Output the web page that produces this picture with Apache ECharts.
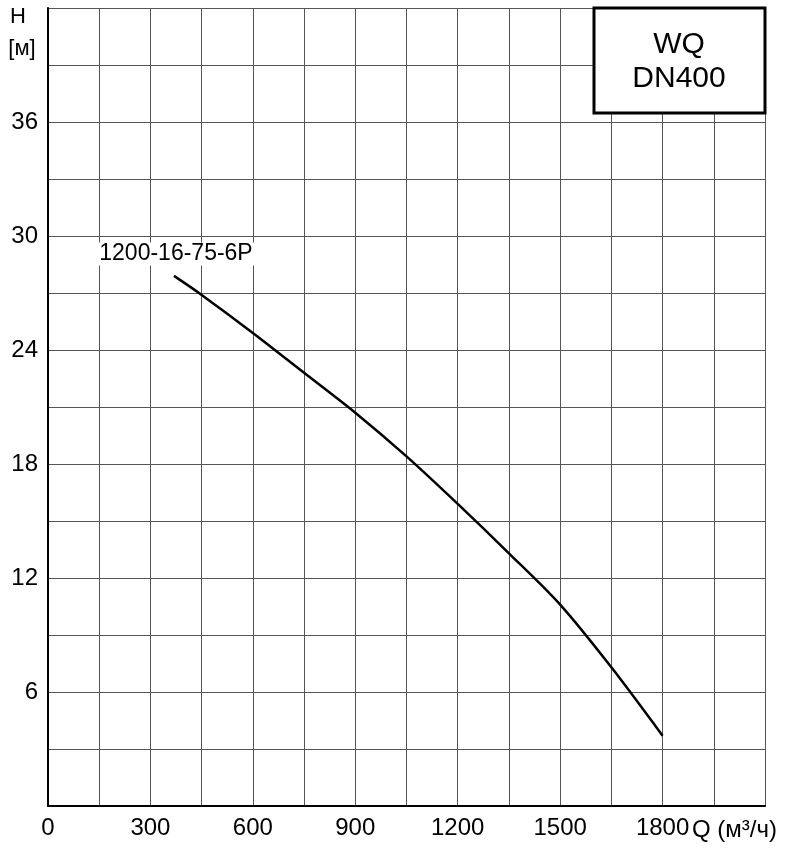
<!DOCTYPE html>
<html><head><meta charset="utf-8">
<script src="https://cdn.jsdelivr.net/npm/echarts@6/dist/echarts.min.js"></script>
<style>html,body{margin:0;padding:0;background:#fff}#c{width:809px;height:858px}</style>
</head><body><div id="c"></div>
<script>
const flow = [369, 450, 600, 750, 900, 1050, 1200, 1350, 1500, 1650, 1800];
const head = [27.9, 26.9, 24.9, 22.8, 20.7, 18.4, 15.9, 13.3, 10.6, 7.3, 3.7];
const xTicks = [0, 300, 600, 900, 1200, 1500, 1800];
const yTicks = [6, 12, 18, 24, 30, 36];
const modelName = '1200-16-75-6P';
const boxText = 'WQ\nDN400';

const chart = echarts.init(document.getElementById('c'));
const font = 'Arial, sans-serif';
chart.setOption({
  animation: false,
  grid: {left: 48, right: 44, top: 8, bottom: 52},
  xAxis: {type: 'value', min: 0, max: 2100, interval: 150,
    axisLine: {lineStyle: {color: '#000', width: 2}}, axisTick: {show: false},
    splitLine: {show: true, lineStyle: {color: '#555', width: 1}},
    axisLabel: {color: '#000', fontSize: 24, fontFamily: font, margin: 10,
      formatter: v => xTicks.includes(v) ? String(v) : ''}},
  yAxis: {type: 'value', min: 0, max: 42, interval: 3,
    axisLine: {show: true, lineStyle: {color: '#000', width: 2}}, axisTick: {show: false},
    splitLine: {show: true, lineStyle: {color: '#555', width: 1}},
    axisLabel: {color: '#000', fontSize: 24, fontFamily: font, margin: 10,
      formatter: v => yTicks.includes(v) ? String(v) : ''}},
  series: [{type: 'line', data: flow.map((x, i) => [x, head[i]]), smooth: 0.3,
    symbol: 'none', lineStyle: {color: '#000', width: 2.5},
    markPoint: {symbol: 'rect', symbolSize: 0,
      data: [{coord: [flow[0], head[0]], label: {show: true, formatter: modelName,
        color: '#000', fontSize: 23, fontFamily: font, backgroundColor: '#fff',
        offset: [2, -22], padding: [0, 2], letterSpacing: -1.5}}]}}],
  graphic: [
    {type: 'rect', shape: {x: 594, y: 8, width: 171, height: 105},
      style: {fill: '#fff', stroke: '#000', lineWidth: 3}, z: 100},
    {type: 'text', x: 679, y: 62, z: 101, style: {text: boxText, fill: '#000',
      font: '30px ' + font, align: 'center', verticalAlign: 'middle', lineHeight: 34}},
    {type: 'text', x: 18, y: 6, style: {text: 'H', fill: '#000', font: '22px ' + font, align: 'center'}},
    {type: 'text', x: 22, y: 38, style: {text: '[м]', fill: '#000', font: '22px ' + font, align: 'center'}},
    {type: 'text', x: 692, y: 818, style: {text: 'Q (м³/ч)', fill: '#000', font: '24px ' + font}}
  ]
});
</script></body></html>
